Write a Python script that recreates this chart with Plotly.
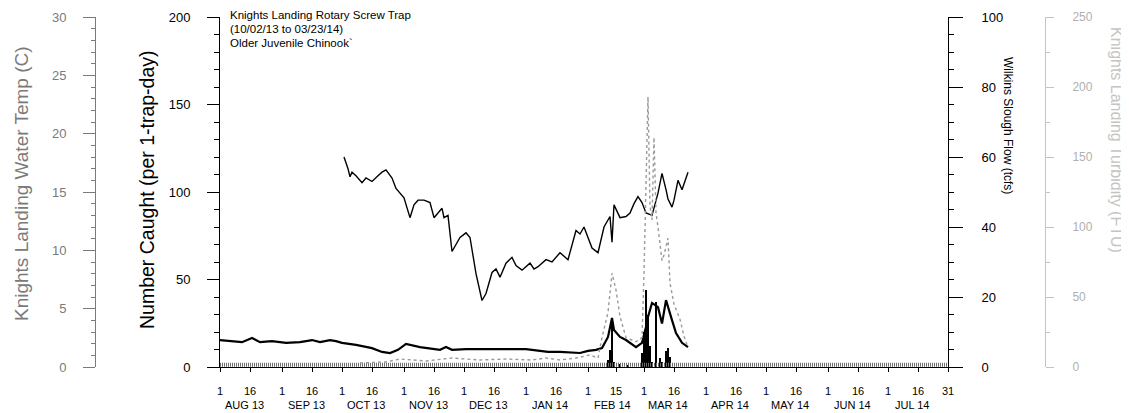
import plotly.graph_objects as go

W, H = 1129, 413
# ---------------- data ----------------
temp_dates = ["2013-10-02","2013-10-04","2013-10-05","2013-10-06","2013-10-08","2013-10-11","2013-10-13","2013-10-16",
              "2013-10-19","2013-10-21","2013-10-23","2013-10-26","2013-10-28","2013-11-01","2013-11-04","2013-11-06",
              "2013-11-08","2013-11-11","2013-11-14","2013-11-16","2013-11-18","2013-11-20","2013-11-21","2013-11-23",
              "2013-11-25","2013-11-29","2013-12-02","2013-12-04","2013-12-07","2013-12-10","2013-12-12","2013-12-15",
              "2013-12-17","2013-12-19","2013-12-22","2013-12-25","2013-12-27","2013-12-30","2014-01-03","2014-01-05",
              "2014-01-07","2014-01-11","2014-01-14","2014-01-18","2014-01-22","2014-01-24","2014-01-26","2014-01-28",
              "2014-01-30","2014-02-03","2014-02-06","2014-02-09","2014-02-12","2014-02-13","2014-02-14","2014-02-17",
              "2014-02-20","2014-02-22","2014-02-24","2014-02-26","2014-02-28","2014-03-02","2014-03-05","2014-03-08",
              "2014-03-10","2014-03-12","2014-03-13","2014-03-15","2014-03-16","2014-03-18","2014-03-20","2014-03-23"]
temp_vals = [18.0,17.0,16.3,16.7,16.4,15.8,16.2,15.9,
             16.4,16.7,16.9,16.2,15.3,14.5,12.8,13.9,
             14.3,14.3,14.1,12.8,13.2,13.6,12.8,13.0,
             9.9,11.1,11.5,11.1,8.0,5.7,6.3,8.1,
             8.4,7.7,8.9,9.4,8.7,8.3,8.9,8.4,
             8.6,9.2,9.0,9.8,9.2,10.4,11.7,11.4,
             12.0,10.2,9.8,12.0,12.9,10.7,13.9,12.8,
             12.9,13.2,14.0,14.6,14.1,13.2,13.0,14.9,
             16.6,15.2,14.4,13.7,14.3,16.0,15.2,16.7]

flow_dates = ["2013-08-01","2013-08-12","2013-08-17","2013-08-21","2013-08-27","2013-09-03","2013-09-10","2013-09-16",
              "2013-09-20","2013-09-25","2013-09-28","2013-10-01","2013-10-08","2013-10-16","2013-10-21","2013-10-25",
              "2013-10-29","2013-11-02","2013-11-09","2013-11-15","2013-11-19","2013-11-22","2013-11-25","2013-12-02",
              "2013-12-19","2014-01-01","2014-01-08","2014-01-12","2014-01-18","2014-01-28","2014-02-01","2014-02-05",
              "2014-02-08","2014-02-11","2014-02-13","2014-02-14","2014-02-17","2014-02-20","2014-02-25","2014-02-28",
              "2014-03-02","2014-03-03","2014-03-05","2014-03-08","2014-03-10","2014-03-12","2014-03-15","2014-03-17",
              "2014-03-20","2014-03-23"]
flow_vals = [7.7,7.1,8.3,7.1,7.4,6.9,7.1,7.7,
             7.1,7.7,7.4,6.9,6.3,5.4,4.3,4.0,
             4.9,6.6,5.7,5.1,4.9,5.7,4.9,5.1,
             5.1,5.1,4.6,4.3,4.3,4.0,4.6,4.9,
             5.4,8.6,14.0,10.6,8.6,7.7,5.7,6.9,
             11.4,14.3,18.3,17.1,12.4,19.1,13.4,9.7,
             6.9,5.7]

turb_dates = ["2013-10-10","2013-10-23","2013-10-30","2013-11-12","2013-11-25","2013-12-09","2013-12-22","2014-01-04",
              "2014-01-11","2014-01-18","2014-01-26","2014-02-02","2014-02-06","2014-02-08","2014-02-11","2014-02-13",
              "2014-02-15","2014-02-17","2014-02-20","2014-02-25","2014-02-28","2014-03-01","2014-03-03","2014-03-04",
              "2014-03-05","2014-03-06","2014-03-07","2014-03-08","2014-03-10","2014-03-11","2014-03-13","2014-03-14",
              "2014-03-16","2014-03-19","2014-03-21","2014-03-23"]
turb_vals = [2.9,3.6,5.7,4.3,6.4,5.0,5.7,5.0,
             6.4,5.0,6.4,8.6,6.4,21,39,67,
             55,36,21,18,21,67,193,115,
             105,164,110,100,76,80,92,60,
             45,34,22,14]

catch_dates = ["2014-02-11","2014-02-12","2014-02-13","2014-02-14","2014-02-17","2014-02-21","2014-02-28","2014-03-01",
               "2014-03-02","2014-03-03","2014-03-04","2014-03-05","2014-03-07","2014-03-09","2014-03-10","2014-03-12",
               "2014-03-13","2014-03-14"]
catch_vals = [4,10,28,3,2,1,8,20,
              44,30,12,3,37,5,3,9,
              11,6]

band_dates = ["2013-08-01", "2014-07-31"]
band_vals = [1.3, 1.3]

tick_dates = ["2013-08-01","2013-08-16","2013-09-01","2013-09-16","2013-10-01","2013-10-16","2013-11-01","2013-11-16",
              "2013-12-01","2013-12-16","2014-01-01","2014-01-16","2014-02-01","2014-02-15","2014-03-01","2014-03-16",
              "2014-04-01","2014-04-16","2014-05-01","2014-05-16","2014-06-01","2014-06-16","2014-07-01","2014-07-16",
              "2014-07-31"]
tick_text = ["1","16","1","16","1","16","1","16","1","16","1","16","1","15","1","16",
             "1","16","1","16","1","16","1","16","31"]
month_dates = ["2013-08-13","2013-09-13","2013-10-13","2013-11-13","2013-12-13","2014-01-13",
               "2014-02-13","2014-03-13","2014-04-13","2014-05-13","2014-06-13","2014-07-13"]
month_text = ["AUG 13","SEP 13","OCT 13","NOV 13","DEC 13","JAN 14",
              "FEB 14","MAR 14","APR 14","MAY 14","JUN 14","JUL 14"]

# ---------------- geometry (page pixels; the page body has an 8px margin) ----------------
OFF = 8
PL, PR, PT, PB = 220 - OFF, 948 - OFF, 17 - OFF, 367 - OFF
def px(x):
    return (x - OFF) / W
def py(y):
    return (PB - (y - OFF)) / (PB - PT)

FONT = "Liberation Sans, Arial, sans-serif"
TEMP_C = "#7a7a7a"
TURB_C = "#c4c4c4"

fig = go.Figure()
fig.add_trace(go.Scatter(x=band_dates, y=band_vals, mode="lines", yaxis="y",
                         line=dict(color="#6e6e6e", width=4, dash="1px,1px"), hoverinfo="skip"))
fig.add_trace(go.Bar(x=catch_dates, y=catch_vals, yaxis="y", marker=dict(color="black", line=dict(width=0)),
                     width=86400000 * 0.9))
fig.add_trace(go.Scatter(x=turb_dates, y=turb_vals, mode="lines", yaxis="y4",
                         line=dict(color="#9a9a9a", width=1.4, dash="dot")))
fig.add_trace(go.Scatter(x=flow_dates, y=flow_vals, mode="lines", yaxis="y3",
                         line=dict(color="black", width=2.2)))
fig.add_trace(go.Scatter(x=temp_dates, y=temp_vals, mode="lines", yaxis="y2",
                         line=dict(color="black", width=1.4)))

fig.update_layout(
    width=W, height=H,
    margin=dict(l=0, r=0, t=PT, b=H - PB),
    paper_bgcolor="white", plot_bgcolor="white",
    showlegend=False,
    font=dict(family=FONT, color="black"),
    bargap=0,
    xaxis=dict(type="date", domain=[PL / W, PR / W], range=["2013-08-01", "2014-07-31"],
               tickvals=tick_dates, ticktext=tick_text, tickangle=0,
               showline=True, linecolor="black", linewidth=1, ticks="outside", ticklen=4,
               tickcolor="black", tickfont=dict(size=11, family=FONT), ticklabelstandoff=10,
               showgrid=False, zeroline=False, automargin=False),
    yaxis=dict(range=[0, 200], tickvals=[0, 50, 100, 150, 200], showline=True, linecolor="black",
               ticks="outside", ticklen=12, tickcolor="black", tickfont=dict(size=13),
               ticklabelstandoff=14, showgrid=False, zeroline=False, anchor="x", automargin=False,
               minor=dict(dtick=10, ticks="outside", ticklen=5, tickcolor="black")),
    yaxis2=dict(range=[0, 30], tickvals=[0, 5, 10, 15, 20, 25, 30], overlaying="y", side="left",
                anchor="free", position=px(95), showline=True, linecolor=TEMP_C, automargin=False,
                ticks="outside", ticklen=12, tickcolor=TEMP_C, tickfont=dict(size=13, color=TEMP_C),
                ticklabelstandoff=14, showgrid=False, zeroline=False,
                minor=dict(dtick=1, ticks="outside", ticklen=4, tickcolor=TEMP_C)),
    yaxis3=dict(range=[0, 100], tickvals=[0, 20, 40, 60, 80, 100], overlaying="y", side="right",
                anchor="x", showline=True, linecolor="black", ticks="outside", ticklen=14,
                tickcolor="black", tickfont=dict(size=13), ticklabelstandoff=16, automargin=False,
                showgrid=False, zeroline=False,
                minor=dict(dtick=5, ticks="outside", ticklen=5, tickcolor="black")),
    yaxis4=dict(range=[0, 250], tickvals=[0, 50, 100, 150, 200, 250], overlaying="y", side="right",
                anchor="free", position=px(1045), showline=True, linecolor=TURB_C, automargin=False,
                ticks="outside", ticklen=8, tickcolor=TURB_C, tickfont=dict(size=12, color="#b0b0b0"),
                ticklabelstandoff=16, showgrid=False, zeroline=False,
                minor=dict(dtick=25, ticks="outside", ticklen=4, tickcolor=TURB_C)),
)

ann = []
for d, t in zip(month_dates, month_text):
    ann.append(dict(x=d, y=py(405), xref="x", yref="paper", text=t, showarrow=False,
                    xanchor="center", yanchor="middle", font=dict(size=11, family=FONT)))
# axis titles
ann.append(dict(x=px(22), y=py(184), xref="paper", yref="paper", text="Knights Landing Water Temp (C)",
                textangle=-90, showarrow=False, xanchor="center", yanchor="middle",
                font=dict(size=19, color=TEMP_C)))
ann.append(dict(x=px(147), y=py(190), xref="paper", yref="paper", text="Number Caught (per 1-trap-day)",
                textangle=-90, showarrow=False, xanchor="center", yanchor="middle",
                font=dict(size=19.5, color="black")))
ann.append(dict(x=px(1008), y=py(125), xref="paper", yref="paper", text="Wilkins Slough Flow (tcfs)",
                textangle=90, showarrow=False, xanchor="center", yanchor="middle",
                font=dict(size=12, color="black")))
ann.append(dict(x=px(1117), y=py(140), xref="paper", yref="paper", text="Knights Landing Turbidity (FTU)",
                textangle=90, showarrow=False, xanchor="center", yanchor="middle",
                font=dict(size=16, color=TURB_C)))
# chart header text
for yy, t in zip([15, 29, 43], ["Knights Landing Rotary Screw Trap", "(10/02/13 to 03/23/14)",
                                "Older Juvenile Chinook`"]):
    ann.append(dict(x=px(228), y=py(yy), xref="paper", yref="paper", text=t, showarrow=False,
                    xanchor="left", yanchor="middle", font=dict(size=11.5, family=FONT)))
fig.update_layout(annotations=ann)

fig.write_html("out.html")
